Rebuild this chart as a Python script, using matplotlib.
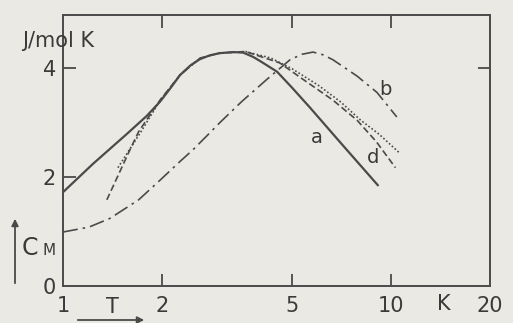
import matplotlib
matplotlib.use("Agg")
import matplotlib.pyplot as plt
from matplotlib.patches import FancyArrowPatch

# ---- data ----
T_a = [1.0, 1.234, 1.566, 1.8, 1.975, 2.12, 2.274, 2.45, 2.614, 2.8, 3.0, 3.3, 3.54, 3.8,
       4.0, 4.49, 5.0, 5.66, 6.98, 9.1]
C_a = [1.72, 2.24, 2.79, 3.12, 3.38, 3.62, 3.87, 4.05, 4.16, 4.23, 4.27, 4.29, 4.28, 4.20,
       4.12, 3.93, 3.63, 3.27, 2.64, 1.85]

T_b = [1.0, 1.2, 1.39, 1.7, 1.975, 2.25, 2.49, 2.75, 3.01, 3.5, 4.2, 4.92, 5.35, 5.78,
       6.2, 6.64, 7.87, 9.05, 10.4]
C_b = [0.99, 1.08, 1.24, 1.58, 1.94, 2.26, 2.50, 2.76, 3.00, 3.38, 3.80, 4.15, 4.25, 4.29,
       4.24, 4.15, 3.85, 3.55, 3.10]

T_c = [1.47, 1.72, 1.975, 2.274, 2.614, 3.0, 3.6, 4.3, 5.0, 6.0, 7.0, 8.04, 9.2, 10.6]
C_c = [2.17, 2.81, 3.40, 3.87, 4.18, 4.27, 4.30, 4.18, 3.98, 3.68, 3.38, 3.05, 2.78, 2.44]

T_d = [1.36, 1.60, 1.70, 1.975, 2.274, 2.614, 3.0, 3.6, 4.58, 5.27, 6.64, 7.87, 9.0, 10.3]
C_d = [1.58, 2.50, 2.83, 3.41, 3.87, 4.18, 4.27, 4.30, 4.09, 3.83, 3.41, 3.04, 2.65, 2.17]

x_ticks = [1, 2, 5, 10, 20]
x_tick_labels = ["1", "2", "5", "10", "20"]
y_ticks = [0, 2, 4]
y_tick_labels = ["0", "2", "4"]

curve_labels = ["a", "b", "d"]
label_pos_T = [5.95, 9.6, 8.8]
label_pos_C = [2.73, 3.6, 2.35]

bg = "#ebe9e3"
ink = "#4a4a4a"
txt = "#3a3a3a"

fig = plt.figure(figsize=(5.13, 3.23), dpi=100, facecolor=bg)
ax = fig.add_axes([63/513, 37/323, 427/513, 271/323], facecolor=bg)

ax.set_xscale("log")
ax.set_xlim(1, 20)
ax.set_ylim(0, 4.97)

ax.plot(T_a, C_a, color=ink, lw=1.6, ls="-")
ax.plot(T_b, C_b, color=ink, lw=1.2, ls=(0, (9, 3, 1.5, 3)))
ax.plot(T_c, C_c, color=ink, lw=1.2, ls=(0, (1, 1.3)))
ax.plot(T_d, C_d, color=ink, lw=1.2, ls=(0, (4, 2)))

for s in ax.spines.values():
    s.set_color(ink)
    s.set_linewidth(1.4)

ax.set_xticks(x_ticks)
ax.set_xticklabels(x_tick_labels)
ax.minorticks_off()
ax.set_yticks(y_ticks)
ax.set_yticklabels(y_tick_labels)
ax.tick_params(axis="both", direction="in", length=9, width=1.3, color=ink,
               labelcolor=txt, labelsize=15)
ax.tick_params(axis="x", pad=7, top=True)
ax.tick_params(axis="y", pad=5)

for tk in ax.xaxis.get_major_ticks():
    if tk.get_loc() in (1, 20):
        tk.tick1line.set_visible(False)
        tk.tick2line.set_visible(False)
for tk in ax.yaxis.get_major_ticks():
    if tk.get_loc() == 0:
        tk.tick1line.set_visible(False)

sec = ax.secondary_yaxis("right")
sec.set_yticks([4])
sec.tick_params(direction="in", length=9, width=1.3, color=ink, labelright=False)
for s in sec.spines.values():
    s.set_visible(False)

for lab, tx, cy in zip(curve_labels, label_pos_T, label_pos_C):
    ax.text(tx, cy, lab, fontsize=14, color=txt, ha="center", va="center")

fig.text(58/513, 1 - 41/323, "J/mol K", fontsize=15, color=txt, ha="center", va="center")
ax.text(14.5, -0.33, "K", fontsize=15, color=txt, ha="center", va="center")

fig.text(112/513, 1 - 307/323, "T", fontsize=15, color=txt, ha="center", va="center")
fig.patches.append(FancyArrowPatch(
    (75/513, 1 - 320/323), (147/513, 1 - 320/323), transform=fig.transFigure,
    arrowstyle="-|>", mutation_scale=10, color=ink, lw=1.3))

fig.text(22/513, 1 - 255/323, "C", fontsize=17, color=txt, ha="left", va="baseline")
fig.text(42/513, 1 - 255/323, "M", fontsize=11, color=txt, ha="left", va="baseline")
fig.patches.append(FancyArrowPatch(
    (15/513, 1 - 286/323), (15/513, 1 - 216/323), transform=fig.transFigure,
    arrowstyle="-|>", mutation_scale=10, color=ink, lw=1.3))

fig.savefig("out.png", dpi=100, facecolor=bg)
